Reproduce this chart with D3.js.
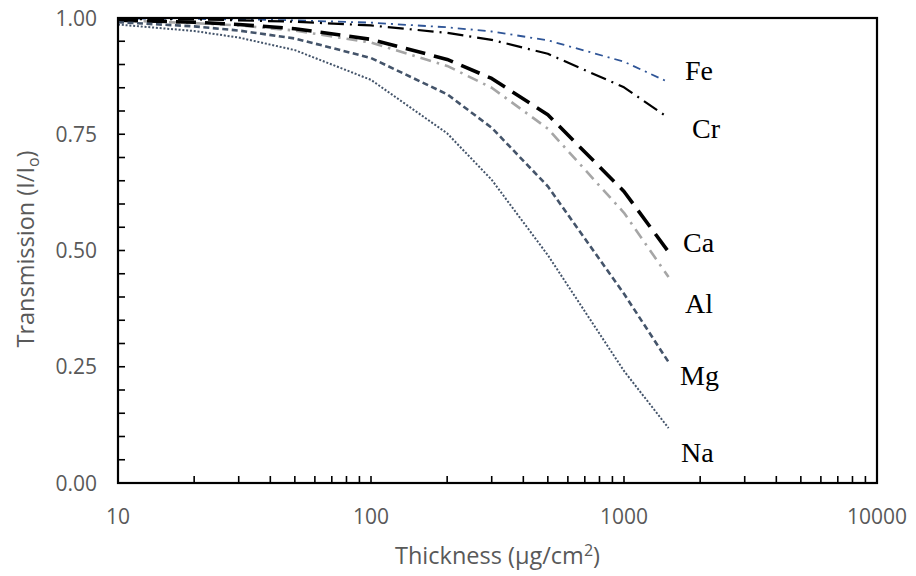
<!DOCTYPE html>
<html>
<head>
<meta charset="utf-8">
<script src="https://cdn.jsdelivr.net/npm/d3@7"></script>
<style>
  html, body { margin: 0; padding: 0; background: #fff; }
  svg { display: block; }
</style>
</head>
<body>
<svg id="chart" width="916" height="576"></svg>
<script>
// Thickness values (µg/cm²) at which transmission was evaluated
const thickness = [10, 20, 30, 50, 100, 200, 300, 500, 1000, 1500];

// Transmission I/Io for each element
const fe = [0.999, 0.998, 0.997, 0.995, 0.990, 0.980, 0.971, 0.952, 0.906, 0.862];
const cr = [0.998, 0.997, 0.995, 0.992, 0.984, 0.968, 0.953, 0.923, 0.851, 0.785];
const ca = [0.995, 0.991, 0.986, 0.977, 0.954, 0.911, 0.870, 0.792, 0.627, 0.497];
const al = [0.995, 0.989, 0.984, 0.973, 0.947, 0.897, 0.850, 0.762, 0.581, 0.443];
const mg = [0.991, 0.982, 0.973, 0.956, 0.914, 0.836, 0.764, 0.638, 0.407, 0.260];
const na = [0.986, 0.972, 0.958, 0.931, 0.867, 0.752, 0.652, 0.490, 0.241, 0.118];

const elementNames = ["Fe", "Cr", "Ca", "Al", "Mg", "Na"];

// Axis ticks
const xTickValues = [10, 100, 1000, 10000];
const yTickValues = [0, 0.25, 0.5, 0.75, 1.0];

(function () {
  // Line styling per element
  const styles = {
    Fe: { color: "#2F5597", width: 1.8, dash: "8 5 2 5" },
    Cr: { color: "#000000", width: 2.2, dash: "16 6 2 6" },
    Ca: { color: "#000000", width: 3.6, dash: "20 9" },
    Al: { color: "#A6A6A6", width: 2.6, dash: "11 6 2.5 6" },
    Mg: { color: "#44546A", width: 2.6, dash: "6 3.5" },
    Na: { color: "#44546A", width: 2.0, dash: "2 1.8" }
  };

  // Element label placement (left x, baseline y) beside the curve ends
  const labelPos = {
    Fe: { x: 685, y: 80 },
    Cr: { x: 692, y: 138 },
    Ca: { x: 683, y: 252 },
    Al: { x: 685, y: 313 },
    Mg: { x: 680, y: 385 },
    Na: { x: 681, y: 462 }
  };

  const seriesData = { Fe: fe, Cr: cr, Ca: ca, Al: al, Mg: mg, Na: na };

  const svg = d3.select("#chart");
  const m = { left: 118, right: 877, top: 18, bottom: 483 };

  const x = d3.scaleLog().domain([10, 10000]).range([m.left, m.right]);
  const y = d3.scaleLinear().domain([0, 1]).range([m.bottom, m.top]);

  const grey = "#595959";
  const sans = "'Open Sans', 'DejaVu Sans', sans-serif";

  // Minor/major ticks on x (pointing inward)
  const xMinor = [];
  [10, 100, 1000].forEach(d => { for (let k = 2; k <= 9; k++) xMinor.push(d * k); });
  const xAll = xMinor.concat([100, 1000]);
  svg.append("g").selectAll("line").data(xAll).join("line")
    .attr("x1", d => x(d)).attr("x2", d => x(d))
    .attr("y1", m.bottom).attr("y2", m.bottom - 7)
    .attr("stroke", "#000").attr("stroke-width", 1.6);

  // Ticks on y every 0.05 (pointing inward)
  const yAll = d3.range(1, 20).map(i => i * 0.05);
  svg.append("g").selectAll("line").data(yAll).join("line")
    .attr("x1", m.left).attr("x2", m.left + 7)
    .attr("y1", d => y(d)).attr("y2", d => y(d))
    .attr("stroke", "#000").attr("stroke-width", 1.6);

  // Series lines
  const line = d3.line()
    .x((d, i) => x(thickness[i]))
    .y(d => y(d))
    .curve(d3.curveLinear);

  // Lighter series first so the darker ones overlay them
  ["Fe", "Al", "Cr", "Ca", "Mg", "Na"].forEach(name => {
    const s = styles[name];
    svg.append("path")
      .datum(seriesData[name])
      .attr("d", line)
      .attr("fill", "none")
      .attr("stroke", s.color)
      .attr("stroke-width", s.width)
      .attr("stroke-dasharray", s.dash)
      .attr("stroke-linejoin", "round");
  });

  // Plot frame
  svg.append("rect")
    .attr("x", m.left).attr("y", m.top)
    .attr("width", m.right - m.left).attr("height", m.bottom - m.top)
    .attr("fill", "none").attr("stroke", "#000").attr("stroke-width", 2.2);

  // X tick labels
  svg.append("g").selectAll("text").data(xTickValues).join("text")
    .attr("x", d => x(d)).attr("y", 524)
    .attr("text-anchor", "middle")
    .attr("font-family", sans).attr("font-size", 21).attr("fill", grey)
    .text(d => d3.format("d")(d));

  // Y tick labels
  svg.append("g").selectAll("text").data(yTickValues).join("text")
    .attr("x", 97).attr("y", d => y(d) + 7.5)
    .attr("text-anchor", "end")
    .attr("font-family", sans).attr("font-size", 21).attr("fill", grey)
    .text(d => d3.format(".2f")(d));

  // Axis titles
  const xt = svg.append("text")
    .attr("x", (m.left + m.right) / 2).attr("y", 564)
    .attr("text-anchor", "middle")
    .attr("font-family", sans).attr("font-size", 23.5).attr("fill", grey);
  xt.append("tspan").text("Thickness (µg/cm");
  xt.append("tspan").attr("dy", -8).attr("font-size", 16).text("2");
  xt.append("tspan").attr("dy", 8).text(")");

  const yt = svg.append("text")
    .attr("transform", `translate(34, 249) rotate(-90)`)
    .attr("text-anchor", "middle")
    .attr("font-family", sans).attr("font-size", 23.5).attr("fill", grey);
  yt.append("tspan").text("Transmission (I/I");
  yt.append("tspan").attr("dy", 5).attr("font-size", 16).text("o");
  yt.append("tspan").attr("dy", -5).text(")");

  // Element labels at the ends of the curves
  svg.append("g").selectAll("text").data(elementNames).join("text")
    .attr("x", d => labelPos[d].x).attr("y", d => labelPos[d].y)
    .attr("font-family", "'Liberation Serif', 'Times New Roman', serif")
    .attr("font-size", 28).attr("fill", "#000")
    .text(d => d);
})();
</script>
</body>
</html>
